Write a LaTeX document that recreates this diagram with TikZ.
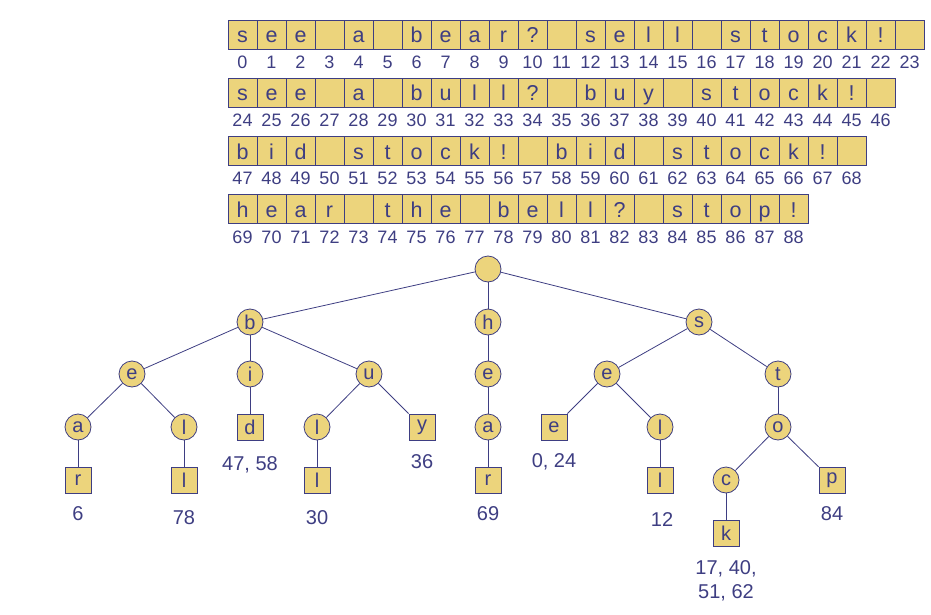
\documentclass[tikz,border=0pt]{standalone}
\usepackage{fontspec}
\setmainfont{Liberation Sans}
\definecolor{trieink}{RGB}{62,62,130}
\definecolor{triefill}{RGB}{236,212,124}
\tikzset{
  cell/.style={draw=trieink, fill=triefill, text=trieink, line width=0.9pt,
    minimum width=29pt, minimum height=29pt, inner sep=0pt,
    text height=17pt, text depth=0pt, font=\fontsize{21.5}{25}\selectfont},
  index/.style={text=trieink, inner sep=0pt, font=\fontsize{18}{22}\selectfont},
  inode/.style={circle, draw=trieink, fill=triefill, text=trieink, line width=0.8pt,
    minimum size=26pt, inner sep=0pt, font=\fontsize{20}{24}\selectfont},
  leaf/.style={rectangle, draw=trieink, fill=triefill, text=trieink, line width=0.8pt,
    minimum size=26pt, inner sep=0pt, font=\fontsize{20}{24}\selectfont},
  occ/.style={text=trieink, align=center, inner sep=0pt, font=\fontsize{20}{24}\selectfont},
  edge/.style={draw=trieink, line width=0.8pt}
}
\begin{document}
\begin{tikzpicture}[x=1pt,y=-1pt]
  \useasboundingbox (0,0) rectangle (931,615);
  % the text, one cell per character
  \foreach \c [count=\i from 0] in {s,e,e,{},a,{},b,e,a,r,?,{},s,e,l,l,{},s,t,o,c,k,!,{}} {
    \node[cell] (cell\i) at ({242.5+29*\i},34.5) {\c};
    \node[index] (num\i) at ({242.5+29*\i},62) {\i};
  }
  \foreach \c [count=\i from 24] in {s,e,e,{},a,{},b,u,l,l,?,{},b,u,y,{},s,t,o,c,k,!,{}} {
    \node[cell] (cell\i) at ({242.5+29*(\i-24)},92.5) {\c};
    \node[index] (num\i) at ({242.5+29*(\i-24)},120) {\i};
  }
  \foreach \c [count=\i from 47] in {b,i,d,{},s,t,o,c,k,!,{},b,i,d,{},s,t,o,c,k,!,{}} {
    \node[cell] (cell\i) at ({242.5+29*(\i-47)},150.5) {\c};
    \node[index] (num\i) at ({242.5+29*(\i-47)},178.5) {\i};
  }
  \foreach \c [count=\i from 69] in {h,e,a,r,{},t,h,e,{},b,e,l,l,?,{},s,t,o,p,!} {
    \node[cell] (cell\i) at ({242.5+29*(\i-69)},208.5) {\c};
    \node[index] (num\i) at ({242.5+29*(\i-69)},237) {\i};
  }
  % trie
  \node[inode] (root) at (488,269) {};
  \node[inode] (b) at (250,322) {b};
  \node[inode] (h) at (488,322) {h};
  \node[inode] (s) at (699,322) {s};
  \node[inode] (be) at (132,374) {e};
  \node[inode] (bi) at (250,374) {i};
  \node[inode] (bu) at (369,374) {u};
  \node[inode] (he) at (488,374) {e};
  \node[inode] (se) at (607,374) {e};
  \node[inode] (st) at (778,374) {t};
  \node[inode] (bea) at (78,427) {a};
  \node[inode] (bel) at (184,427) {l};
  \node[leaf] (bid) at (250,427) {d};
  \node[inode] (bul) at (317,427) {l};
  \node[leaf] (buy) at (422,427) {y};
  \node[inode] (hea) at (488,427) {a};
  \node[leaf] (see) at (554,427) {e};
  \node[inode] (sel) at (660,427) {l};
  \node[inode] (sto) at (778,427) {o};
  \node[leaf] (bear) at (78,480) {r};
  \node[leaf] (bell) at (184,480) {l};
  \node[leaf] (bull) at (317,480) {l};
  \node[leaf] (hear) at (488,480) {r};
  \node[leaf] (sell) at (660,480) {l};
  \node[inode] (stoc) at (726,480) {c};
  \node[leaf] (stop) at (832,480) {p};
  \node[leaf] (stock) at (726,533) {k};
  \foreach \a/\z in {root/b, root/h, root/s, b/be, b/bi, b/bu, h/he, s/se, s/st,
      be/bea, be/bel, bi/bid, bu/bul, bu/buy, he/hea, se/see, se/sel, st/sto,
      bea/bear, bel/bell, bul/bull, hea/hear, sel/sell, sto/stoc, sto/stop, stoc/stock}
    \draw[edge] (\a) -- (\z);
  % occurrences
  \node[occ] (occbid) at (250,465) {47, 58};
  \node[occ] (occbuy) at (422,462) {36};
  \node[occ] (occsee) at (554,462) {0, 24};
  \node[occ] (occbear) at (78,514) {6};
  \node[occ] (occbell) at (184,518) {78};
  \node[occ] (occbull) at (317,518) {30};
  \node[occ] (occhear) at (488,514) {69};
  \node[occ] (occsell) at (662,520) {12};
  \node[occ] (occstop) at (832,514) {84};
  \node[occ] (occstock) at (726,581) {17, 40,\\51, 62};
\end{tikzpicture}
\end{document}
